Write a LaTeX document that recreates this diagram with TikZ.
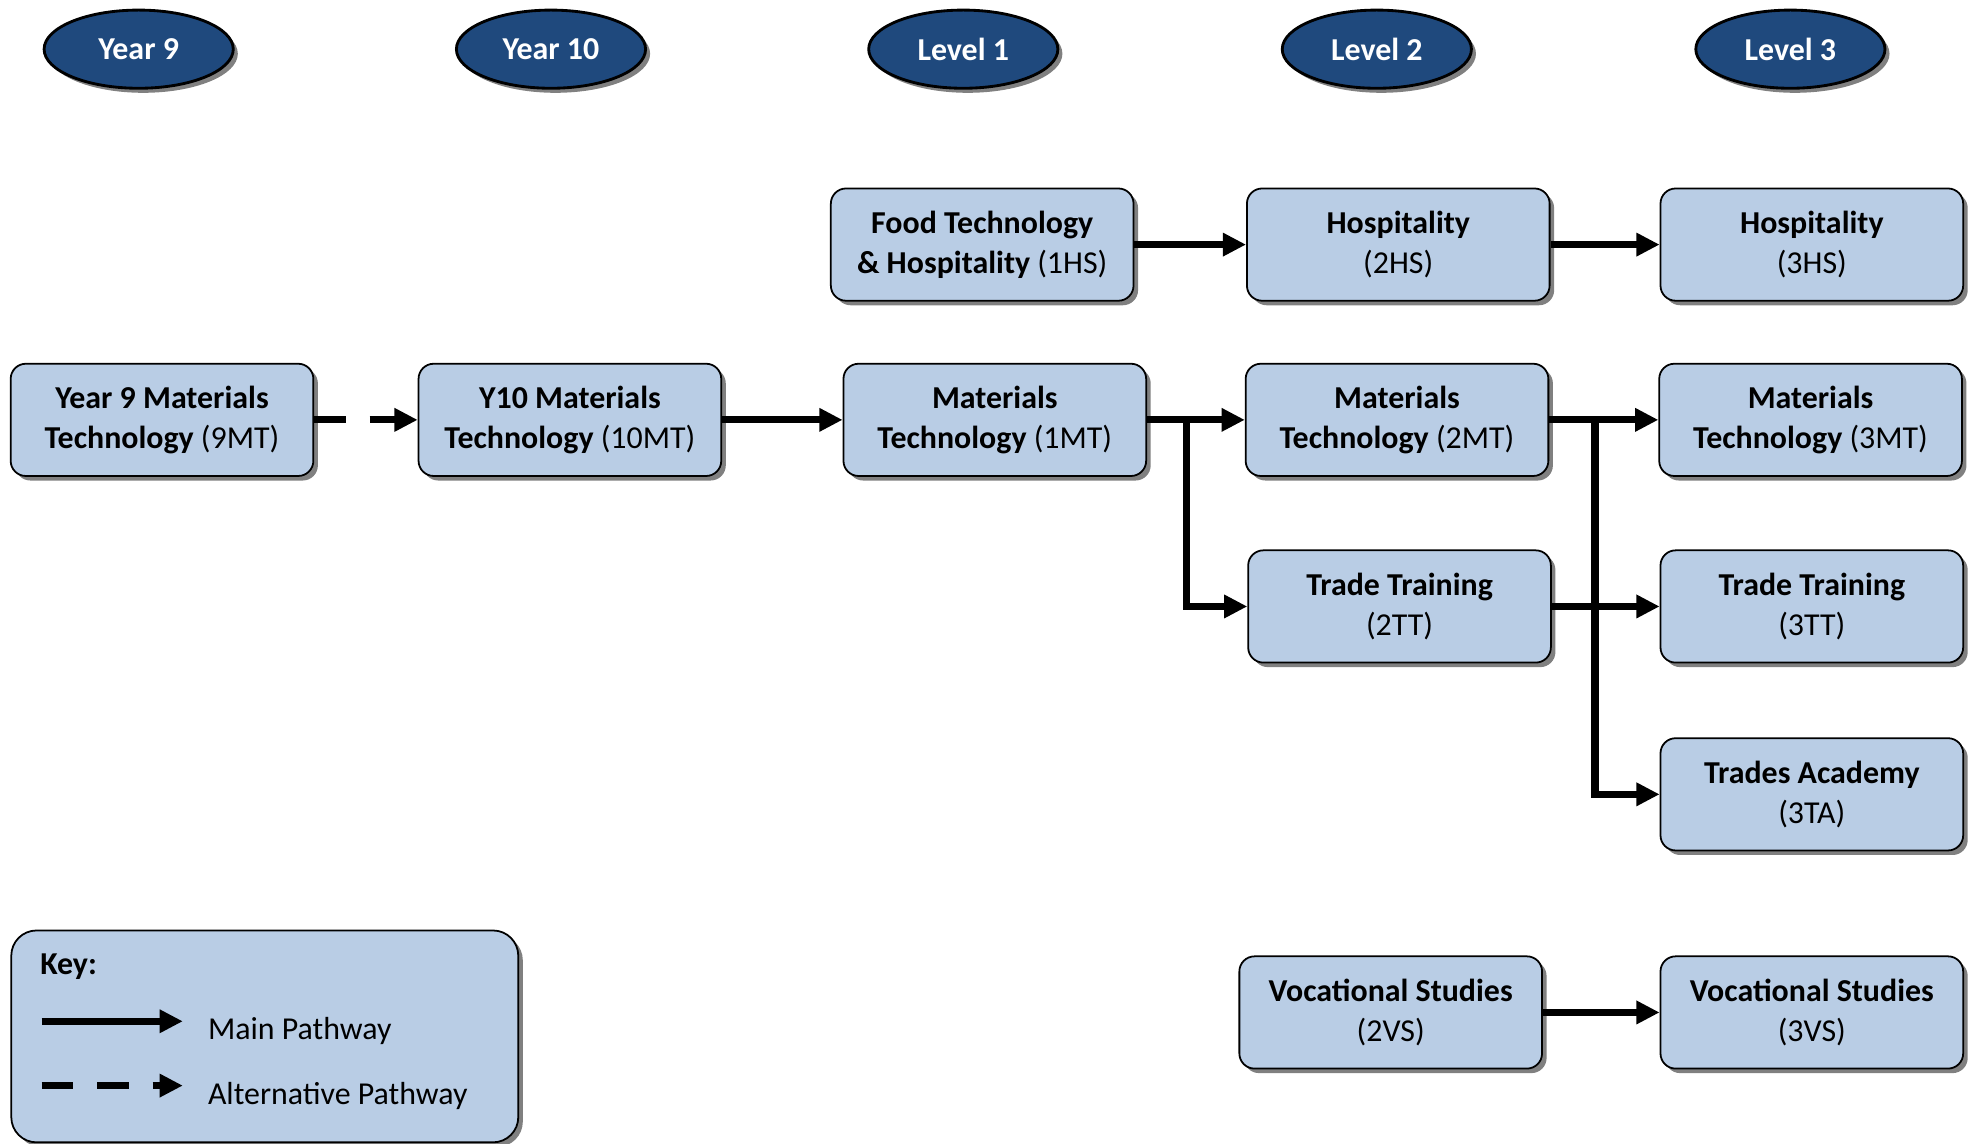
\documentclass[tikz,border=0pt]{standalone}
\usepackage{fontspec}
\setmainfont{Carlito}
\usetikzlibrary{arrows.meta,shapes.geometric,shadows}
\definecolor{headblue}{RGB}{31,73,125}
\definecolor{boxblue}{RGB}{185,205,229}

\begin{document}
\begin{tikzpicture}[x=0.025cm,y=-0.025cm,
    level/.style={ellipse,draw=black,line width=1.6pt,fill=headblue,text=white,
        minimum width=3.75cm,minimum height=1.55cm,inner sep=0pt,
        font=\fontsize{18}{21}\selectfont\bfseries,
        drop shadow={shadow xshift=0.09cm,shadow yshift=-0.09cm,fill=gray,opacity=1}},
    course/.style={rectangle,rounded corners=0.3cm,draw=black,line width=1pt,fill=boxblue,
        minimum width=6cm,minimum height=2.225cm,align=center,inner sep=0pt,
        font=\fontsize{18}{22.8}\selectfont,
        drop shadow={shadow xshift=0.09cm,shadow yshift=-0.09cm,fill=gray,opacity=1}},
    path/.style={line width=4.1pt,-{Triangle[length=0.46cm,width=0.44cm]}},
    altpath/.style={path,dash pattern=on 0.625cm off 0.475cm}]
\useasboundingbox (0,0) rectangle (1568,907);

% column headers
\foreach \x/\t/\n in {110/Year 9/hy9, 437/Year 10/hy10, 764/Level 1/hl1, 1092/Level 2/hl2, 1420/Level 3/hl3}
    \node[level] (\n) at (\x,39) {\t};

% courses
\node[course] (hs1) at (779,194) {\textbf{Food Technology}\\\textbf{\& Hospitality} (1HS)};
\node[course] (hs2) at (1109,194) {\textbf{Hospitality}\\(2HS)};
\node[course] (hs3) at (1437,194) {\textbf{Hospitality}\\(3HS)};
\node[course] (mt9) at (128.5,333) {\textbf{Year 9 Materials}\\\textbf{Technology} (9MT)};
\node[course] (mt10) at (452,333) {\textbf{Y10 Materials}\\\textbf{Technology} (10MT)};
\node[course] (mt1) at (789,333) {\textbf{Materials}\\\textbf{Technology} (1MT)};
\node[course] (mt2) at (1108,333) {\textbf{Materials}\\\textbf{Technology} (2MT)};
\node[course] (mt3) at (1436,333) {\textbf{Materials}\\\textbf{Technology} (3MT)};
\node[course] (tt2) at (1110,481) {\textbf{Trade Training}\\(2TT)};
\node[course] (tt3) at (1437,481) {\textbf{Trade Training}\\(3TT)};
\node[course] (ta3) at (1437,630) {\textbf{Trades Academy}\\(3TA)};
\node[course] (vs2) at (1103,803) {\textbf{Vocational Studies}\\(2VS)};
\node[course] (vs3) at (1437,803) {\textbf{Vocational Studies}\\(3VS)};

% pathways
\draw[altpath] (mt9) -- (mt10);
\draw[path] (mt10) -- (mt1);
\draw[path] (mt1) -- (mt2);
\draw[path] (mt2) -- (mt3);
\draw[path] (hs1) -- (hs2);
\draw[path] (hs2) -- (hs3);
\draw[path] (tt2) -- (tt3);
\draw[path] (vs2) -- (vs3);
\coordinate (j1) at (941,333);
\coordinate (j2) at (1265,333);
\draw[path] (j1) |- (tt2.west);
\draw[path] (j2) |- (ta3.west);

% key
\node[rectangle,rounded corners=0.5cm,draw=black,line width=1pt,fill=boxblue,
    minimum width=10.05cm,minimum height=4.2cm,
    drop shadow={shadow xshift=0.09cm,shadow yshift=-0.09cm,fill=gray,opacity=1}]
    (key) at (210,822) {};
\node[anchor=west,font=\fontsize{18}{21}\selectfont\bfseries] (keyt) at (27,767) {Key:};
\coordinate (m1) at (33,810);
\coordinate (m2) at (145,810);
\coordinate (a1) at (33,861);
\coordinate (a2) at (145,861);
\draw[path] (m1) -- (m2);
\draw[altpath] (a1) -- (a2);
\node[anchor=west,font=\fontsize{18}{21}\selectfont] (mainp) at (160,818) {Main Pathway};
\node[anchor=west,font=\fontsize{18}{21}\selectfont] (altp) at (160,869) {Alternative Pathway};
\end{tikzpicture}
\end{document}
